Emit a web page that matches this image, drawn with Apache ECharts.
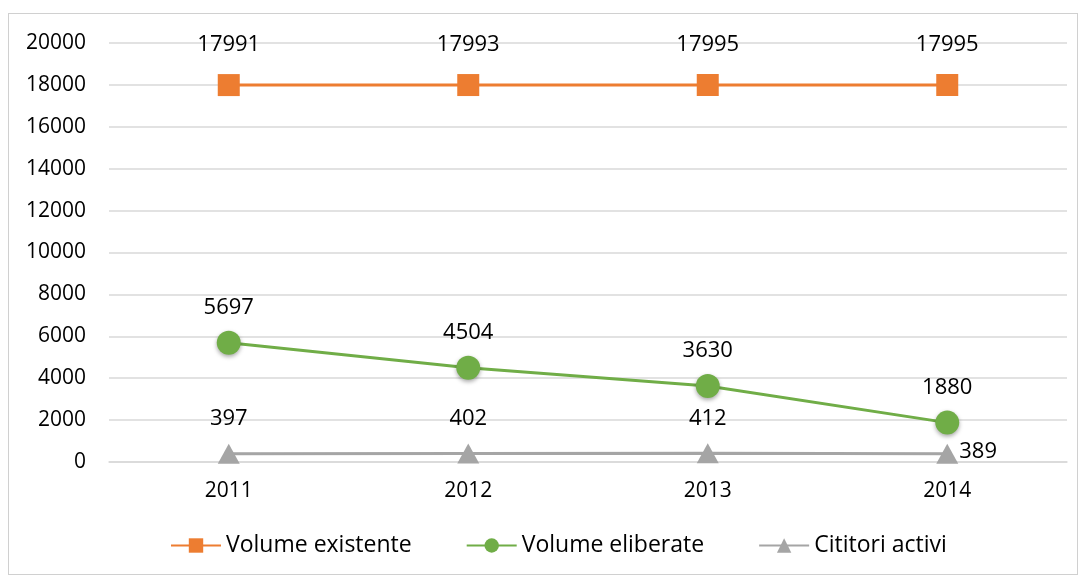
<!DOCTYPE html>
<html>
<head>
<meta charset="utf-8">
<script src="https://cdn.jsdelivr.net/npm/echarts@6/dist/echarts.min.js"></script>
<style>
  html, body { margin: 0; padding: 0; background: #fff; }
  #chart { position: absolute; left: 8px; top: 13px; width: 1070px; height: 562px; border: 1px solid #d0d0d0; box-sizing: border-box; }
</style>
</head>
<body>
<div id="chart"></div>
<script>
var years = ['2011', '2012', '2013', '2014'];
var volumeExistente = [17991, 17993, 17995, 17995];
var volumeEliberate = [5697, 4504, 3630, 1880];
var cititoriActivi = [397, 402, 412, 389];

var font = 'Open Sans, Liberation Sans, sans-serif';

var chart = echarts.init(document.getElementById('chart'));
var option = {
    animation: false,
    textStyle: { fontFamily: font },
    grid: { left: 100, right: 10, top: 29, bottom: 112 },
    legend: {
        bottom: 12,
        left: 156,
        itemWidth: 50,
        itemHeight: 18,
        itemGap: 54,
        textStyle: { fontSize: 23, color: '#000', fontFamily: font },
        data: ['Volume existente', 'Volume eliberate', 'Cititori activi']
    },
    xAxis: {
        type: 'category',
        data: years,
        boundaryGap: true,
        axisTick: { show: false },
        axisLine: { show: true, lineStyle: { color: '#d9d9d9', width: 1.5 } },
        axisLabel: { fontSize: 21, color: '#000', margin: 19, fontFamily: font }
    },
    yAxis: {
        type: 'value',
        min: 0,
        max: 20000,
        interval: 2000,
        axisLine: { show: false },
        axisTick: { show: false },
        axisLabel: {
            fontSize: 21, color: '#000', margin: 23, fontFamily: font,
            formatter: function (v) { return String(v); }
        },
        splitLine: { lineStyle: { color: '#d9d9d9', width: 1.5 } }
    },
    series: [{
        name: 'Volume existente',
        type: 'line',
        data: volumeExistente,
        symbol: 'rect',
        symbolSize: 22,
        color: '#ed7d31',
        lineStyle: { width: 3, color: '#ed7d31' },
        label: { show: true, position: 'top', distance: 18, fontSize: 22, color: '#000', fontFamily: font }
    }, {
        name: 'Volume eliberate',
        type: 'line',
        data: volumeEliberate,
        symbol: 'circle',
        symbolSize: 24,
        color: '#70ad47',
        itemStyle: { shadowBlur: 4, shadowColor: 'rgba(0,0,0,0.35)', shadowOffsetY: 2 },
        lineStyle: { width: 3, color: '#70ad47' },
        label: { show: true, position: 'top', distance: 12, fontSize: 22, color: '#000', fontFamily: font }
    }, {
        name: 'Cititori activi',
        type: 'line',
        data: cititoriActivi,
        symbol: 'triangle',
        symbolSize: [22, 20],
        color: '#a5a5a5',
        lineStyle: { width: 3, color: '#a5a5a5' },
        label: { show: true, position: 'top', distance: 14, fontSize: 22, color: '#000', fontFamily: font },
        labelLayout: function (params) {
            if (params.dataIndex === 3) {
                return { x: params.rect.x + params.rect.width / 2 + 12, y: params.rect.y + params.rect.height / 2 - 2, align: 'left', verticalAlign: 'middle' };
            }
        }
    }]
};
chart.setOption(option);
</script>
</body>
</html>
